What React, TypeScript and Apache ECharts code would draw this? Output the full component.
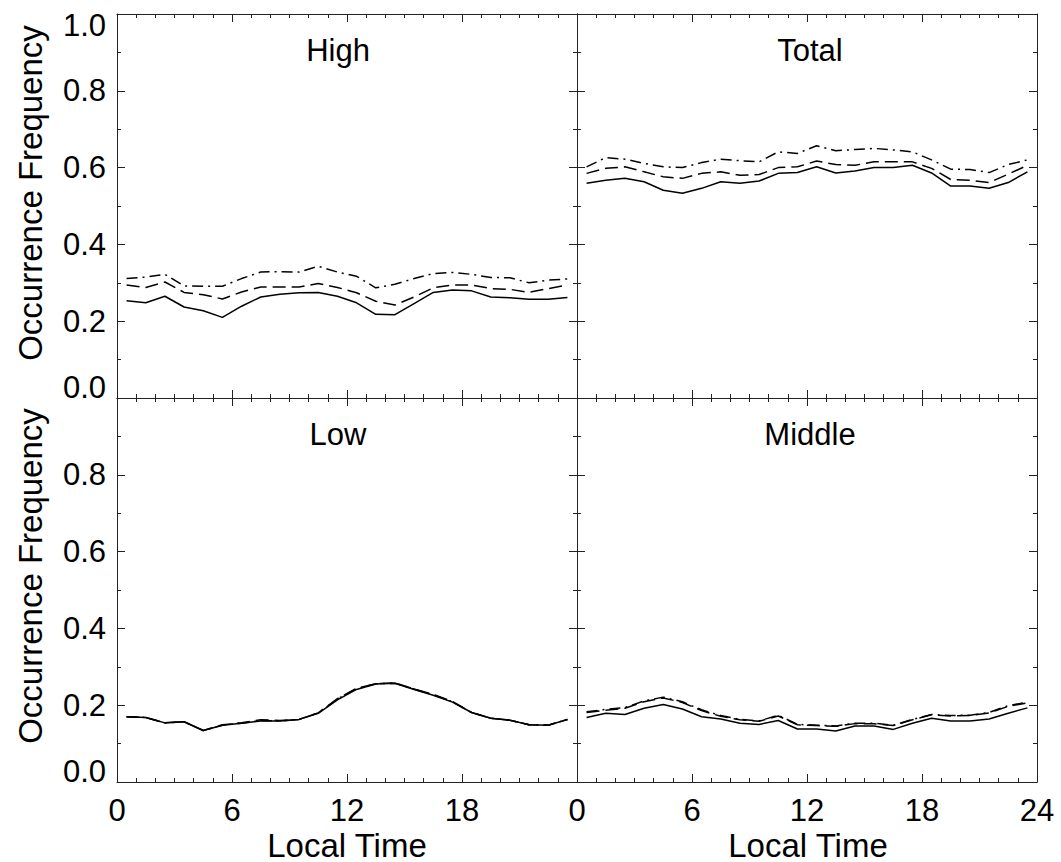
import React, { useEffect, useRef } from "react";
import * as echarts from "echarts";

const HOURS = [0.5, 1.5, 2.5, 3.5, 4.5, 5.5, 6.5, 7.5, 8.5, 9.5, 10.5, 11.5, 12.5, 13.5, 14.5, 15.5, 16.5, 17.5, 18.5, 19.5, 20.5, 21.5, 22.5, 23.5];

const HIGH_SOLID = [0.253, 0.248, 0.265, 0.237, 0.227, 0.210, 0.239, 0.263, 0.270, 0.274, 0.275, 0.265, 0.248, 0.218, 0.217, 0.246, 0.275, 0.281, 0.279, 0.263, 0.261, 0.257, 0.257, 0.262];
const HIGH_DASH = [0.294, 0.288, 0.302, 0.275, 0.269, 0.258, 0.276, 0.289, 0.289, 0.289, 0.298, 0.288, 0.274, 0.252, 0.242, 0.263, 0.287, 0.294, 0.294, 0.285, 0.283, 0.275, 0.285, 0.294];
const HIGH_DASHDOT = [0.311, 0.315, 0.322, 0.292, 0.291, 0.291, 0.311, 0.328, 0.329, 0.328, 0.343, 0.328, 0.317, 0.287, 0.296, 0.311, 0.324, 0.327, 0.322, 0.314, 0.313, 0.300, 0.307, 0.310];

const TOTAL_SOLID = [0.559, 0.567, 0.572, 0.563, 0.541, 0.533, 0.546, 0.563, 0.559, 0.565, 0.585, 0.587, 0.602, 0.586, 0.591, 0.600, 0.600, 0.606, 0.586, 0.552, 0.552, 0.546, 0.561, 0.589];
const TOTAL_DASH = [0.585, 0.598, 0.602, 0.589, 0.576, 0.572, 0.585, 0.589, 0.580, 0.582, 0.600, 0.602, 0.617, 0.608, 0.606, 0.615, 0.615, 0.615, 0.598, 0.569, 0.567, 0.561, 0.583, 0.606];
const TOTAL_DASHDOT = [0.602, 0.626, 0.622, 0.611, 0.602, 0.600, 0.613, 0.622, 0.618, 0.615, 0.641, 0.637, 0.657, 0.644, 0.647, 0.650, 0.646, 0.641, 0.620, 0.596, 0.595, 0.587, 0.608, 0.620];

const LOW_SOLID = [0.170, 0.168, 0.154, 0.157, 0.134, 0.148, 0.153, 0.159, 0.159, 0.163, 0.179, 0.214, 0.241, 0.255, 0.257, 0.241, 0.226, 0.208, 0.181, 0.166, 0.161, 0.149, 0.148, 0.163];
const LOW_DASH = [0.170, 0.168, 0.154, 0.157, 0.134, 0.149, 0.154, 0.162, 0.160, 0.163, 0.180, 0.217, 0.244, 0.256, 0.258, 0.242, 0.228, 0.210, 0.181, 0.166, 0.161, 0.149, 0.148, 0.163];
const LOW_DASHDOT = [0.170, 0.168, 0.154, 0.157, 0.134, 0.148, 0.153, 0.160, 0.159, 0.163, 0.180, 0.216, 0.243, 0.256, 0.257, 0.242, 0.227, 0.209, 0.181, 0.166, 0.161, 0.149, 0.148, 0.163];

const MIDDLE_SOLID = [0.168, 0.179, 0.176, 0.192, 0.202, 0.190, 0.170, 0.164, 0.153, 0.150, 0.160, 0.138, 0.138, 0.133, 0.146, 0.146, 0.137, 0.153, 0.166, 0.159, 0.159, 0.164, 0.179, 0.193];
const MIDDLE_DASH = [0.181, 0.187, 0.192, 0.209, 0.219, 0.207, 0.186, 0.171, 0.162, 0.158, 0.172, 0.149, 0.147, 0.145, 0.152, 0.152, 0.147, 0.162, 0.175, 0.172, 0.173, 0.180, 0.197, 0.206];
const MIDDLE_DASHDOT = [0.183, 0.189, 0.194, 0.211, 0.221, 0.209, 0.188, 0.173, 0.163, 0.159, 0.174, 0.150, 0.148, 0.146, 0.153, 0.153, 0.148, 0.163, 0.176, 0.173, 0.174, 0.181, 0.199, 0.208];

const PANEL_TITLES = ["High", "Total", "Low", "Middle"];
const X_TICKS = [0, 6, 12, 18, 24];
const Y_TICKS = [0, 0.2, 0.4, 0.6, 0.8, 1.0];
const Y_NAME = "Occurrence Frequency";
const X_NAME = "Local Time";

const PANEL_DATA = [
  [HIGH_SOLID, HIGH_DASH, HIGH_DASHDOT],
  [TOTAL_SOLID, TOTAL_DASH, TOTAL_DASHDOT],
  [LOW_SOLID, LOW_DASH, LOW_DASHDOT],
  [MIDDLE_SOLID, MIDDLE_DASH, MIDDLE_DASHDOT],
];

const FONT = "'Liberation Sans', Arial, Helvetica, sans-serif";
const AXIS_COLOR = "#222";
const LINE_TYPES: any[] = ["solid", [13, 6], [11, 5, 2, 5]];

const GRIDS = [
  { left: 117, top: 14, width: 460, height: 384 },
  { left: 577, top: 14, width: 460, height: 384 },
  { left: 117, top: 398, width: 460, height: 384 },
  { left: 577, top: 398, width: 460, height: 384 },
];

export default function App() {
  const ref = useRef<HTMLDivElement>(null);
  useEffect(() => {
    if (!ref.current) return;
    const chart = echarts.init(ref.current, undefined, { renderer: "svg" });

    const xAxes: any[] = [];
    const yAxes: any[] = [];
    const series: any[] = [];

    const tickCommon = {
      axisLine: { show: true, onZero: false, lineStyle: { color: AXIS_COLOR, width: 1 } },
      axisTick: { show: true, inside: true, length: 8, lineStyle: { color: AXIS_COLOR, width: 1 } },
      minorTick: { show: true, length: 4, lineStyle: { color: AXIS_COLOR, width: 1 } },
      splitLine: { show: false },
      minorSplitLine: { show: false },
    };

    GRIDS.forEach((g, i) => {
      const isBottom = i >= 2;
      const isLeft = i % 2 === 0;
      xAxes.push({
        ...tickCommon,
        type: "value",
        gridIndex: i,
        position: "bottom",
        min: X_TICKS[0],
        max: X_TICKS[X_TICKS.length - 1],
        interval: 6,
        minorTick: { ...tickCommon.minorTick, splitNumber: 6 },
        axisLabel: {
          show: isBottom,
          fontSize: 31,
          fontFamily: FONT,
          color: "#000",
          margin: 13,
          formatter: (v: number) => (isLeft && v === 24 ? "" : String(v)),
        },
      });
      xAxes.push({
        ...tickCommon,
        type: "value",
        gridIndex: i,
        position: "top",
        min: 0,
        max: 24,
        interval: 6,
        minorTick: { ...tickCommon.minorTick, splitNumber: 6 },
        axisLabel: { show: false },
      });
      yAxes.push({
        ...tickCommon,
        type: "value",
        gridIndex: i,
        position: "left",
        min: Y_TICKS[0],
        max: Y_TICKS[Y_TICKS.length - 1],
        interval: 0.2,
        minorTick: { ...tickCommon.minorTick, splitNumber: 2 },
        axisLabel: {
          show: isLeft,
          fontSize: 31,
          lineHeight: 22,
          fontFamily: FONT,
          color: "#000",
          margin: 11,
          verticalAlignMinLabel: "bottom",
          verticalAlignMaxLabel: "top",
          formatter: (v: number) => (isBottom && v >= 0.99 ? "" : v.toFixed(1)),
        },
      });
      yAxes.push({
        ...tickCommon,
        type: "value",
        gridIndex: i,
        position: "right",
        min: 0,
        max: 1,
        interval: 0.2,
        minorTick: { ...tickCommon.minorTick, splitNumber: 2 },
        axisLabel: { show: false },
      });
      PANEL_DATA[i].forEach((vals, k) => {
        series.push({
          type: "line",
          xAxisIndex: 2 * i,
          yAxisIndex: 2 * i,
          data: HOURS.map((h, j) => [h, vals[j]]),
          showSymbol: false,
          symbol: "none",
          lineStyle: { color: "#000", width: 1.5, type: LINE_TYPES[k] },
          z: 3,
        });
      });
    });

    const titlePos = [
      [338, 50],
      [810, 50],
      [338, 434],
      [810, 434],
    ];

    const graphic: any[] = [];
    PANEL_TITLES.forEach((t, i) => {
      graphic.push({
        type: "text",
        x: titlePos[i][0],
        y: titlePos[i][1],
        style: { text: t, font: `31px ${FONT}`, fill: "#000", textAlign: "center", textVerticalAlign: "middle" },
      });
    });
    [193, 576].forEach((cy) => {
      graphic.push({
        type: "text",
        x: 30,
        y: cy,
        rotation: Math.PI / 2,
        style: { text: Y_NAME, font: `33px ${FONT}`, fill: "#000", textAlign: "center", textVerticalAlign: "middle" },
      });
    });
    [347, 808].forEach((cx) => {
      graphic.push({
        type: "text",
        x: cx,
        y: 845,
        style: { text: X_NAME, font: `33px ${FONT}`, fill: "#000", textAlign: "center", textVerticalAlign: "middle" },
      });
    });

    chart.setOption({
      animation: false,
      backgroundColor: "#fff",
      grid: GRIDS,
      xAxis: xAxes,
      yAxis: yAxes,
      series,
      graphic,
    });
    return () => chart.dispose();
  }, []);
  return (
    <div
      ref={ref}
      style={{ position: "fixed", left: 0, top: 0, width: 1061, height: 862, background: "#fff" }}
    />
  );
}
